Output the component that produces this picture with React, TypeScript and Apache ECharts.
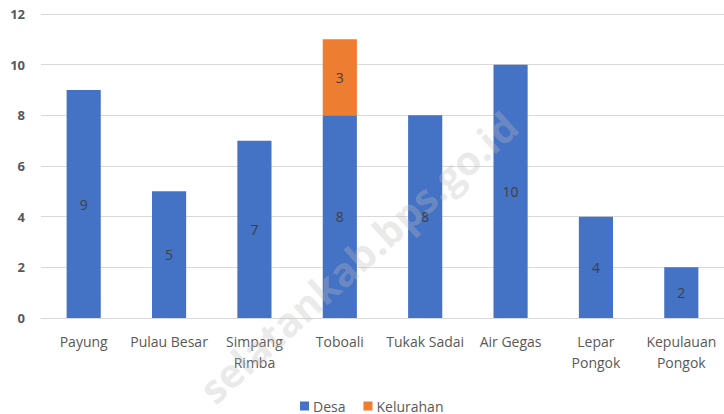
import React, { useEffect, useRef } from "react";
import * as echarts from "echarts";

const categories = [
  "Payung",
  "Pulau Besar",
  "Simpang\nRimba",
  "Toboali",
  "Tukak Sadai",
  "Air Gegas",
  "Lepar\nPongok",
  "Kepulauan\nPongok",
];
const desa = [9, 5, 7, 8, 8, 10, 4, 2];
const kelurahan = [0, 0, 0, 3, 0, 0, 0, 0];
const seriesNames = ["Desa", "Kelurahan"];
const watermark = "selatankab.bps.go.id";

const FONT = "'Open Sans', 'DejaVu Sans', sans-serif";

export default function App() {
  const ref = useRef<HTMLDivElement>(null);
  useEffect(() => {
    if (!ref.current) return;
    const chart = echarts.init(ref.current, null, { renderer: "svg" });
    const label = {
      show: true,
      position: "inside" as const,
      color: "#404040",
      fontSize: 14,
      fontFamily: FONT,
      formatter: (p: any) => (p.value ? String(p.value) : ""),
    };
    chart.setOption({
      animation: false,
      backgroundColor: "#ffffff",
      textStyle: { fontFamily: FONT },
      grid: { left: 41, right: 0, top: 14, bottom: 96, containLabel: false },
      legend: {
        data: seriesNames,
        left: 295,
        top: 394,
        itemWidth: 9,
        itemHeight: 9,
        itemGap: 18,
        icon: "rect",
        textStyle: { color: "#595959", fontSize: 14, fontFamily: FONT, padding: [0, 0, 0, -1] },
      },
      xAxis: {
        type: "category",
        data: categories,
        axisLine: { show: true, lineStyle: { color: "#d9d9d9", width: 1 } },
        axisTick: { show: false },
        axisLabel: {
          color: "#595959",
          fontSize: 14,
          fontFamily: FONT,
          lineHeight: 21,
          margin: 13,
          interval: 0,
        },
      },
      yAxis: {
        type: "value",
        min: 0,
        max: 12,
        interval: 2,
        axisLine: { show: false },
        axisTick: { show: false },
        splitLine: { lineStyle: { color: "#d9d9d9", width: 1 } },
        axisLabel: {
          color: "#595959",
          fontSize: 13,
          fontWeight: "bold",
          fontFamily: FONT,
          margin: 16,
        },
      },
      series: [
        {
          name: seriesNames[0],
          type: "bar",
          stack: "total",
          data: desa,
          barWidth: "40%",
          itemStyle: { color: "#4472C4" },
          label,
        },
        {
          name: seriesNames[1],
          type: "bar",
          stack: "total",
          data: kelurahan,
          barWidth: "40%",
          itemStyle: { color: "#ED7D31" },
          label,
        },
      ],
      graphic: [
        {
          type: "text",
          x: 358,
          y: 257,
          rotation: (42 * Math.PI) / 180,
          z: 100,
          silent: true,
          style: {
            text: watermark,
            fontSize: 40,
            fontWeight: "bold",
            fontFamily: FONT,
            fill: "rgba(190,190,190,0.33)",
            textAlign: "center",
            textVerticalAlign: "middle",
          },
        },
      ],
    });
    return () => chart.dispose();
  }, []);
  return (
    <div
      ref={ref}
      style={{ position: "fixed", left: 0, top: 0, width: 724, height: 414 }}
    />
  );
}
